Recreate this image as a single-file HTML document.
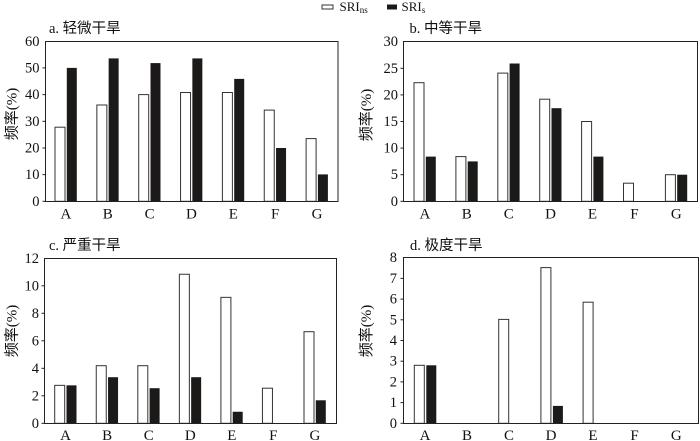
<!DOCTYPE html>
<html><head><meta charset="utf-8"><style>
html,body{margin:0;padding:0;background:#fff;}
svg{display:block;}
text{font-family:"Liberation Serif","Noto Sans CJK SC",serif;fill:#111;}
.t{font-size:14.5px;}
.x{font-size:15px;text-anchor:middle;}
.y{font-size:14.5px;text-anchor:end;}
.ttl{font-size:14.5px;}
.yl{font-size:15px;text-anchor:middle;}
.w{fill:#fff;stroke:#333;stroke-width:1;}
.k{fill:#1c1a18;}
.f{fill:none;stroke:#222;stroke-width:1;}
.tk{stroke:#222;stroke-width:1;}
</style></head><body>
<svg width="700" height="441" viewBox="0 0 700 441" xmlns="http://www.w3.org/2000/svg">
<!-- legend -->
<rect x="322" y="5" width="11" height="4" class="w"/>
<text x="339.5" y="11" style="font-size:13px">SRI<tspan style="font-size:9px" dy="2">ns</tspan></text>
<rect x="387" y="4.5" width="10" height="5" class="k"/>
<text x="401.5" y="11" style="font-size:13px">SRI<tspan style="font-size:9px" dy="2">s</tspan></text>

<!-- Panel a -->
<text x="49" y="33" class="ttl">a. 轻微干旱</text>
<text class="yl" transform="translate(16.5,114) rotate(-90)">频率(%)</text>
<g>
<rect x="55" y="127.2" width="10" height="74.1" class="w"/>
<rect x="66.8" y="67.9" width="10" height="133.4" class="k"/>
<rect x="96.85" y="105.0" width="10" height="96.3" class="w"/>
<rect x="108.65" y="58.4" width="10" height="142.9" class="k"/>
<rect x="138.7" y="94.6" width="10" height="106.7" class="w"/>
<rect x="150.5" y="63.1" width="10" height="138.2" class="k"/>
<rect x="180.55" y="92.5" width="10" height="108.8" class="w"/>
<rect x="192.35" y="58.4" width="10" height="142.9" class="k"/>
<rect x="222.4" y="92.5" width="10" height="108.8" class="w"/>
<rect x="234.2" y="78.9" width="10" height="122.4" class="k"/>
<rect x="264.25" y="110.1" width="10" height="91.2" class="w"/>
<rect x="276.05" y="148.0" width="10" height="53.3" class="k"/>
<rect x="306.1" y="138.6" width="10" height="62.7" class="w"/>
<rect x="317.9" y="174.4" width="10" height="26.9" class="k"/>
</g>
<rect x="45.5" y="41.5" width="292.5" height="160" class="f"/>
<g class="tk">
<line x1="42.5" y1="201.3" x2="45.5" y2="201.3"/><line x1="42.5" y1="174.6" x2="45.5" y2="174.6"/>
<line x1="42.5" y1="148" x2="45.5" y2="148"/><line x1="42.5" y1="121.3" x2="45.5" y2="121.3"/>
<line x1="42.5" y1="94.6" x2="45.5" y2="94.6"/><line x1="42.5" y1="67.9" x2="45.5" y2="67.9"/>
</g>
<g>
<text x="39.5" y="205.8" class="y">0</text><text x="39.5" y="179.1" class="y">10</text>
<text x="39.5" y="152.5" class="y">20</text><text x="39.5" y="125.8" class="y">30</text>
<text x="39.5" y="99.1" class="y">40</text><text x="39.5" y="72.4" class="y">50</text>
<text x="39.5" y="45.8" class="y">60</text>
</g>
<g>
<text x="65.9" y="218.5" class="x">A</text><text x="107.75" y="218.5" class="x">B</text>
<text x="149.6" y="218.5" class="x">C</text><text x="191.45" y="218.5" class="x">D</text>
<text x="233.3" y="218.5" class="x">E</text><text x="275.15" y="218.5" class="x">F</text>
<text x="317" y="218.5" class="x">G</text>
</g>

<!-- Panel b -->
<text x="409.5" y="33" class="ttl">b. 中等干旱</text>
<text class="yl" transform="translate(371,115) rotate(-90)">频率(%)</text>
<g>
<rect x="414" y="82.7" width="10" height="118.6" class="w"/>
<rect x="425.8" y="156.6" width="10" height="44.7" class="k"/>
<rect x="455.9" y="156.6" width="10" height="44.7" class="w"/>
<rect x="467.7" y="161.4" width="10" height="39.9" class="k"/>
<rect x="497.8" y="73.1" width="10" height="128.2" class="w"/>
<rect x="509.6" y="63.5" width="10" height="137.8" class="k"/>
<rect x="539.7" y="99.2" width="10" height="102.1" class="w"/>
<rect x="551.5" y="108.2" width="10" height="93.1" class="k"/>
<rect x="581.6" y="121.5" width="10" height="79.8" class="w"/>
<rect x="593.4" y="156.6" width="10" height="44.7" class="k"/>
<rect x="623.5" y="183.2" width="10" height="18.1" class="w"/>
<rect x="665.4" y="174.7" width="10" height="26.6" class="w"/>
<rect x="677.2" y="174.7" width="10" height="26.6" class="k"/>
</g>
<rect x="403.5" y="41.5" width="294" height="160" class="f"/>
<g class="tk">
<line x1="400.5" y1="201.3" x2="403.5" y2="201.3"/><line x1="400.5" y1="174.7" x2="403.5" y2="174.7"/>
<line x1="400.5" y1="148.1" x2="403.5" y2="148.1"/><line x1="400.5" y1="121.5" x2="403.5" y2="121.5"/>
<line x1="400.5" y1="94.9" x2="403.5" y2="94.9"/><line x1="400.5" y1="68.3" x2="403.5" y2="68.3"/>
</g>
<g>
<text x="398" y="205.8" class="y">0</text><text x="398" y="179.2" class="y">5</text>
<text x="398" y="152.6" class="y">10</text><text x="398" y="126" class="y">15</text>
<text x="398" y="99.4" class="y">20</text><text x="398" y="72.8" class="y">25</text>
<text x="398" y="46.2" class="y">30</text>
</g>
<g>
<text x="424.9" y="218.5" class="x">A</text><text x="466.8" y="218.5" class="x">B</text>
<text x="508.7" y="218.5" class="x">C</text><text x="550.6" y="218.5" class="x">D</text>
<text x="592.5" y="218.5" class="x">E</text><text x="634.4" y="218.5" class="x">F</text>
<text x="676.3" y="218.5" class="x">G</text>
</g>

<!-- Panel c -->
<text x="49" y="250" class="ttl">c. 严重干旱</text>
<text class="yl" transform="translate(16.5,331) rotate(-90)">频率(%)</text>
<g>
<rect x="54.7" y="385.35" width="10" height="37.95" class="w"/>
<rect x="66.5" y="385.35" width="10" height="37.95" class="k"/>
<rect x="96.25" y="365.7" width="10" height="57.6" class="w"/>
<rect x="108.05" y="377.2" width="10" height="46.1" class="k"/>
<rect x="137.8" y="365.7" width="10" height="57.6" class="w"/>
<rect x="149.6" y="388.2" width="10" height="35.1" class="k"/>
<rect x="179.35" y="274.25" width="10" height="149.05" class="w"/>
<rect x="191.15" y="377.2" width="10" height="46.1" class="k"/>
<rect x="220.9" y="297.35" width="10" height="125.95" class="w"/>
<rect x="232.7" y="411.75" width="10" height="11.55" class="k"/>
<rect x="262.45" y="388.2" width="10" height="35.1" class="w"/>
<rect x="304" y="331.7" width="10" height="91.6" class="w"/>
<rect x="315.8" y="400.3" width="10" height="23" class="k"/>
</g>
<rect x="44.5" y="258.5" width="292" height="165" class="f"/>
<g class="tk">
<line x1="41.5" y1="423.3" x2="44.5" y2="423.3"/><line x1="41.5" y1="395.8" x2="44.5" y2="395.8"/>
<line x1="41.5" y1="368.3" x2="44.5" y2="368.3"/><line x1="41.5" y1="340.8" x2="44.5" y2="340.8"/>
<line x1="41.5" y1="313.3" x2="44.5" y2="313.3"/><line x1="41.5" y1="285.8" x2="44.5" y2="285.8"/>
</g>
<g>
<text x="39" y="427.8" class="y">0</text><text x="39" y="400.3" class="y">2</text>
<text x="39" y="372.8" class="y">4</text><text x="39" y="345.3" class="y">6</text>
<text x="39" y="317.8" class="y">8</text><text x="39" y="290.3" class="y">10</text>
<text x="39" y="262.8" class="y">12</text>
</g>
<g>
<text x="65.6" y="440" class="x">A</text><text x="107.15" y="440" class="x">B</text>
<text x="148.7" y="440" class="x">C</text><text x="190.25" y="440" class="x">D</text>
<text x="231.8" y="440" class="x">E</text><text x="273.35" y="440" class="x">F</text>
<text x="314.9" y="440" class="x">G</text>
</g>

<!-- Panel d -->
<text x="410" y="250" class="ttl">d. 极度干旱</text>
<text class="yl" transform="translate(371,331) rotate(-90)">频率(%)</text>
<g>
<rect x="414.3" y="365.3" width="10" height="58" class="w"/>
<rect x="426.3" y="365.3" width="10" height="58" class="k"/>
<rect x="498.7" y="319.4" width="10" height="103.9" class="w"/>
<rect x="540.9" y="267.6" width="10" height="155.7" class="w"/>
<rect x="552.9" y="405.9" width="10" height="17.4" class="k"/>
<rect x="583.1" y="302.2" width="10" height="121.1" class="w"/>
</g>
<rect x="403.5" y="257.5" width="295" height="166" class="f"/>
<g class="tk">
<line x1="400.5" y1="423.3" x2="403.5" y2="423.3"/><line x1="400.5" y1="402.6" x2="403.5" y2="402.6"/>
<line x1="400.5" y1="381.9" x2="403.5" y2="381.9"/><line x1="400.5" y1="361.2" x2="403.5" y2="361.2"/>
<line x1="400.5" y1="340.5" x2="403.5" y2="340.5"/><line x1="400.5" y1="319.8" x2="403.5" y2="319.8"/>
<line x1="400.5" y1="299.1" x2="403.5" y2="299.1"/><line x1="400.5" y1="278.4" x2="403.5" y2="278.4"/>
</g>
<g>
<text x="397" y="427.8" class="y">0</text><text x="397" y="407.1" class="y">1</text>
<text x="397" y="386.4" class="y">2</text><text x="397" y="365.7" class="y">3</text>
<text x="397" y="345" class="y">4</text><text x="397" y="324.3" class="y">5</text>
<text x="397" y="303.6" class="y">6</text><text x="397" y="282.9" class="y">7</text>
<text x="397" y="262.2" class="y">8</text>
</g>
<g>
<text x="425" y="440" class="x">A</text><text x="467" y="440" class="x">B</text>
<text x="509" y="440" class="x">C</text><text x="551" y="440" class="x">D</text>
<text x="593" y="440" class="x">E</text><text x="634.5" y="440" class="x">F</text>
<text x="676.3" y="440" class="x">G</text>
</g>
</svg>
</body></html>
